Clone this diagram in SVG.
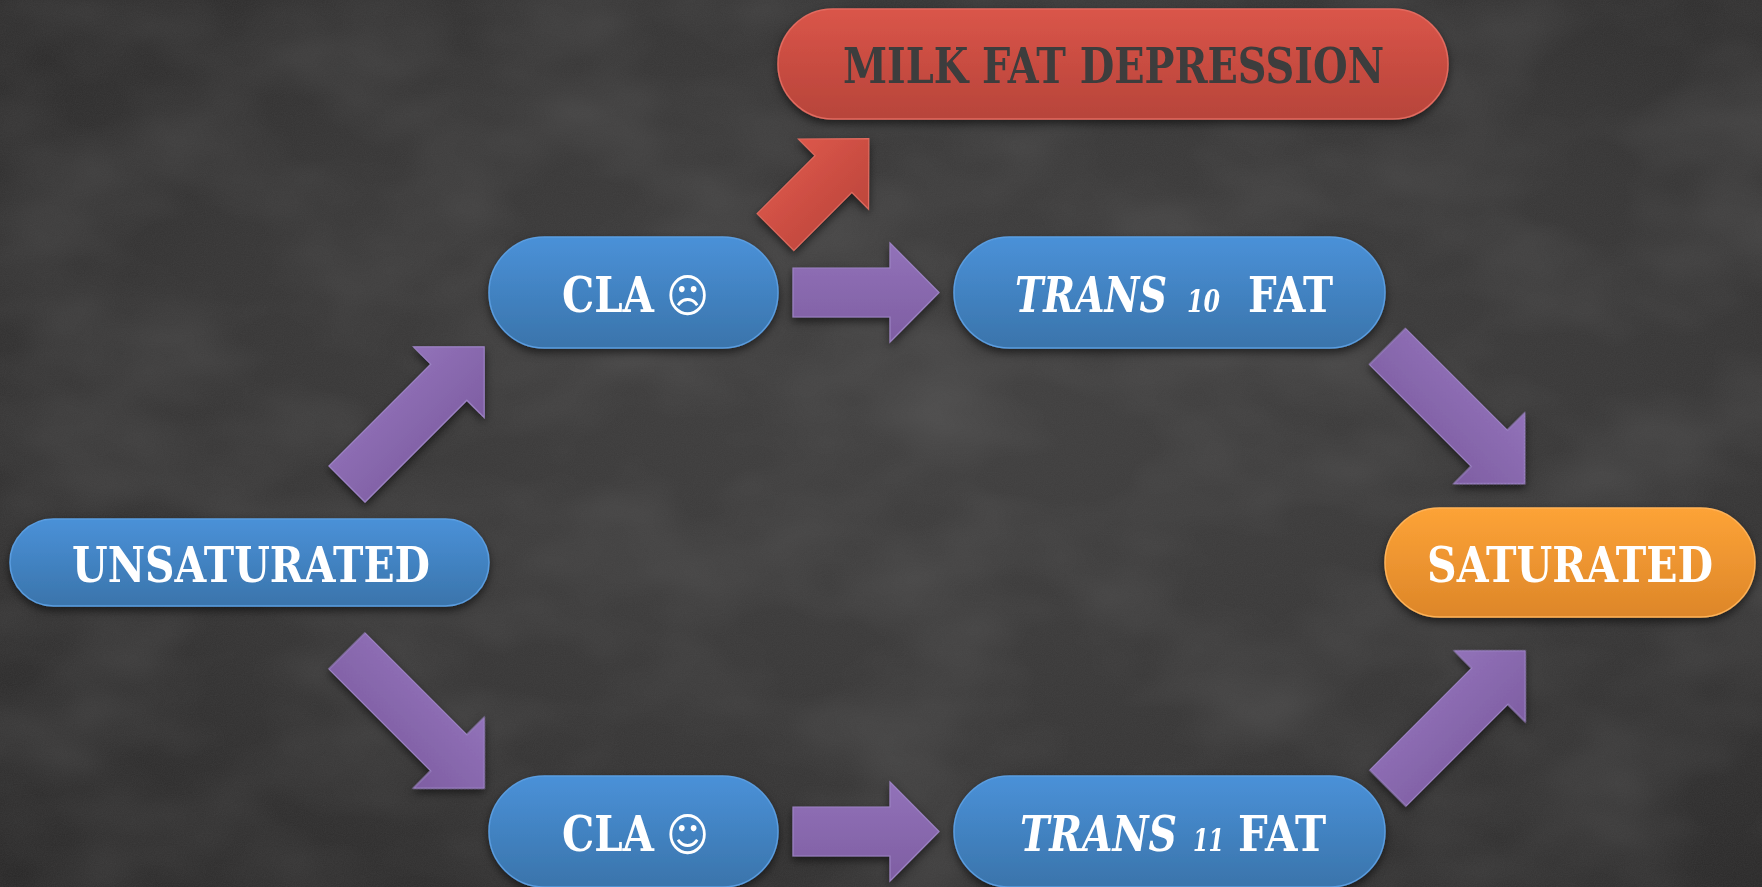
<svg xmlns="http://www.w3.org/2000/svg" xmlns:xlink="http://www.w3.org/1999/xlink" width="1762" height="887" viewBox="0 0 1762 887">
  <defs>
    <radialGradient id="bg" cx="0.55" cy="0.45" r="0.75">
      <stop offset="0" stop-color="#434242"/>
      <stop offset="0.6" stop-color="#393838"/>
      <stop offset="1" stop-color="#2b2a2a"/>
    </radialGradient>
    <filter id="smudge" x="0" y="0" width="100%" height="100%">
      <feTurbulence type="fractalNoise" baseFrequency="0.006 0.01" numOctaves="3" seed="7" result="n"/>
      <feColorMatrix in="n" type="matrix" values="0 0 0 0 1  0 0 0 0 1  0 0 0 0 1  0.16 0 0 0 -0.06"/>
    </filter>
    <filter id="grain" x="0" y="0" width="100%" height="100%">
      <feTurbulence type="fractalNoise" baseFrequency="0.9" numOctaves="2" seed="2" result="g"/>
      <feColorMatrix in="g" type="matrix" values="0 0 0 0 0.1  0 0 0 0 0.1  0 0 0 0 0.1  0.3 0 0 0 -0.08"/>
    </filter>
    <filter id="shadow" x="-20%" y="-20%" width="140%" height="150%">
      <feDropShadow dx="0" dy="4" stdDeviation="4" flood-color="#000" flood-opacity="0.55"/>
    </filter>
    <linearGradient id="gBlue" x1="0" y1="0" x2="0" y2="1">
      <stop offset="0" stop-color="#4a91d8"/>
      <stop offset="1" stop-color="#3a74ab"/>
    </linearGradient>
    <linearGradient id="gRed" x1="0" y1="0" x2="0" y2="1">
      <stop offset="0" stop-color="#da5549"/>
      <stop offset="1" stop-color="#b7443a"/>
    </linearGradient>
    <linearGradient id="gOrange" x1="0" y1="0" x2="0" y2="1">
      <stop offset="0" stop-color="#fda337"/>
      <stop offset="1" stop-color="#dd8629"/>
    </linearGradient>
    <linearGradient id="gPurple" x1="0" y1="0" x2="0" y2="1">
      <stop offset="0" stop-color="#9272b9"/>
      <stop offset="1" stop-color="#7e5ea2"/>
    </linearGradient>
    <linearGradient id="gRedArrow" x1="0" y1="0" x2="0" y2="1">
      <stop offset="0" stop-color="#dc574a"/>
      <stop offset="1" stop-color="#bd463c"/>
    </linearGradient>
    <path id="arrDiag" d="M0,-25.5 H144 V-50 L194,0 L144,50 V25.5 H0 Z"/>
    <path id="arrRedShape" d="M0,-26 H82 V-49.5 L132,0 L82,49.5 V26 H0 Z"/>
    <path id="arrH" d="M0,-24.5 H97 V-49.5 L146,0 L97,49.5 V24.5 H0 Z"/>
    <style>
      .lbl { font-family: 'DejaVu Serif Condensed', 'DejaVu Serif', serif; font-weight: bold; font-size: 48px; fill: #ffffff; font-stretch: condensed; }
      .dark { fill: #3c3c3c; }
      .it { font-style: italic; }
      .num { font-style: italic; font-size: 32px; }
      .face { font-family: 'DejaVu Sans', sans-serif; font-weight: normal; font-size: 46px; }
      .blue { fill: url(#gBlue); stroke: #5a9de0; stroke-width: 1.5; }
      .red { fill: url(#gRed); stroke: #e26a5f; stroke-width: 1.5; }
      .orange { fill: url(#gOrange); stroke: #ffb257; stroke-width: 1.5; }
      .parrow { fill: url(#gPurple); stroke: #9c82c4; stroke-width: 1.2; }
      .rarrow { fill: url(#gRedArrow); stroke: #e06a5e; stroke-width: 1.2; }
    </style>
  </defs>

  <g id="background">
    <rect width="1762" height="887" fill="url(#bg)"/>
    <rect width="1762" height="887" filter="url(#smudge)"/>
    <rect width="1762" height="887" filter="url(#grain)"/>
  </g>

  <g id="connectors" filter="url(#shadow)">
    <use xlink:href="#arrDiag" class="parrow" transform="translate(347,484) rotate(-45)"/>
    <use xlink:href="#arrDiag" class="parrow" transform="translate(347,651) rotate(45)"/>
    <use xlink:href="#arrH" class="parrow" transform="translate(793,292.5)"/>
    <use xlink:href="#arrH" class="parrow" transform="translate(793,831.5)"/>
    <use xlink:href="#arrDiag" class="parrow" transform="translate(1387.5,346.5) rotate(45)"/>
    <use xlink:href="#arrDiag" class="parrow" transform="translate(1388,788) rotate(-45)"/>
    <use xlink:href="#arrRedShape" class="rarrow" transform="translate(775.5,232) rotate(-45)"/>
  </g>

  <g id="milk-fat-depression" filter="url(#shadow)">
    <rect x="778" y="9" width="670" height="110" rx="55" ry="55" class="red"/>
    <text x="843" y="83" class="lbl dark" textLength="541" lengthAdjust="spacingAndGlyphs">MILK FAT DEPRESSION</text>
  </g>

  <g id="unsaturated" filter="url(#shadow)">
    <rect x="10" y="519" width="479" height="87" rx="43.5" ry="43.5" class="blue"/>
    <text x="72" y="582" class="lbl" textLength="358" lengthAdjust="spacingAndGlyphs">UNSATURATED</text>
  </g>

  <g id="cla-sad" filter="url(#shadow)">
    <rect x="489" y="237" width="289" height="111" rx="55.5" ry="55.5" class="blue"/>
    <text x="562" y="312" class="lbl"><tspan textLength="92" lengthAdjust="spacingAndGlyphs">CLA</tspan> <tspan x="666" class="face">☹</tspan></text>
  </g>

  <g id="cla-happy" filter="url(#shadow)">
    <rect x="489" y="776" width="289" height="111" rx="55.5" ry="55.5" class="blue"/>
    <text x="562" y="851" class="lbl"><tspan textLength="92" lengthAdjust="spacingAndGlyphs">CLA</tspan> <tspan x="666" class="face">☺</tspan></text>
  </g>

  <g id="trans10" filter="url(#shadow)">
    <rect x="954" y="237" width="431" height="111" rx="55.5" ry="55.5" class="blue"/>
    <text y="312" class="lbl"><tspan x="1015" class="it" textLength="152" lengthAdjust="spacingAndGlyphs">TRANS</tspan> <tspan x="1187" class="num" textLength="33" lengthAdjust="spacingAndGlyphs">10</tspan> <tspan x="1248" textLength="85" lengthAdjust="spacingAndGlyphs">FAT</tspan></text>
  </g>

  <g id="trans11" filter="url(#shadow)">
    <rect x="954" y="776" width="431" height="111" rx="55.5" ry="55.5" class="blue"/>
    <text y="851" class="lbl"><tspan x="1020" class="it" textLength="157" lengthAdjust="spacingAndGlyphs">TRANS</tspan> <tspan x="1193" class="num" textLength="31" lengthAdjust="spacingAndGlyphs">11</tspan> <tspan x="1238" textLength="88" lengthAdjust="spacingAndGlyphs">FAT</tspan></text>
  </g>

  <g id="saturated" filter="url(#shadow)">
    <rect x="1385" y="508" width="370" height="109" rx="54.5" ry="54.5" class="orange"/>
    <text x="1427" y="582" class="lbl" textLength="286" lengthAdjust="spacingAndGlyphs">SATURATED</text>
  </g>
</svg>
